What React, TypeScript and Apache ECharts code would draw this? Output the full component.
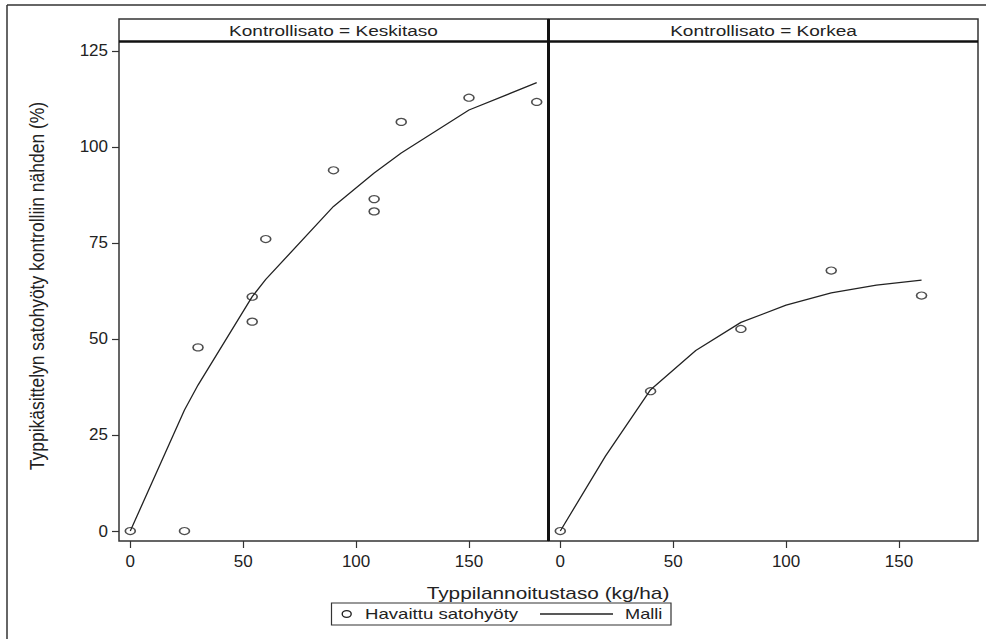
import React, { useEffect, useRef } from "react";
import * as echarts from "echarts";

const FONT = "'Liberation Sans', Arial, Helvetica, sans-serif";

// Panel titles
const panelTitles = ["Kontrollisato = Keskitaso", "Kontrollisato = Korkea"];

// Observed values (Keskitaso)
const kesX = [0, 24, 30, 54, 54, 60, 90, 108, 108, 120, 150, 180];
const kesY = [0, 0, 47.8, 61, 54.5, 76, 93.9, 86.4, 83.2, 106.5, 112.8, 111.7];
// Model (Keskitaso)
const kesModelX = [0, 24, 30, 54, 60, 90, 108, 120, 150, 180];
const kesModelY = [0, 31.5, 38, 61, 65.5, 84.5, 93.2, 98.4, 109.6, 116.7];

// Observed values (Korkea)
const korX = [0, 40, 80, 120, 160];
const korY = [0, 36.4, 52.6, 67.8, 61.3];
// Model (Korkea)
const korModelX = [0, 20, 40, 60, 80, 100, 120, 140, 160];
const korModelY = [0, 19.5, 36.8, 47, 54.3, 58.8, 62, 64, 65.3];

const xTicks = [0, 50, 100, 150];
const yTicks = [0, 25, 50, 75, 100, 125];

const xTitle = "Typpilannoitustaso (kg/ha)";
const yTitle = "Typpikäsittelyn satohyöty kontrolliin nähden (%)";
const legendNames = ["Havaittu satohyöty", "Malli"];

const pairs = (xs: number[], ys: number[]) => xs.map((x, i) => [x, ys[i]]);

export default function App() {
  const ref = useRef<HTMLDivElement>(null);
  useEffect(() => {
    if (!ref.current) return;
    const chart = echarts.init(ref.current, null, { renderer: "svg" });
    const ink = "#222";
    const frame = "#333";
    const xAxisBase = (gi: number) => ({
      type: "value",
      gridIndex: gi,
      min: -5,
      max: 185,
      axisLine: { show: false, onZero: false },
      axisTick: {
        show: true,
        inside: false,
        length: 7,
        customValues: xTicks,
        lineStyle: { color: frame, width: 1.2 },
      },
      axisLabel: {
        customValues: xTicks,
        margin: 12,
        fontSize: 17,
        color: ink,
        fontFamily: FONT,
      },
      splitLine: { show: false },
    });
    const scatterBase = {
      type: "scatter",
      symbol: "circle",
      symbolSize: [10, 7],
      itemStyle: { color: "rgba(0,0,0,0)", borderColor: ink, borderWidth: 1.4 },
      z: 3,
    };
    const lineBase = {
      type: "line",
      showSymbol: false,
      symbol: "none",
      lineStyle: { color: ink, width: 1.3 },
      z: 2,
    };
    const option: any = {
      animation: false,
      textStyle: { fontFamily: FONT },
      grid: [
        { left: 119, top: 42, width: 429, height: 499 },
        { left: 549, top: 42, width: 429, height: 499 },
      ],
      xAxis: [xAxisBase(0), xAxisBase(1)],
      yAxis: [
        {
          type: "value",
          gridIndex: 0,
          min: -2.6,
          max: 127.3,
          axisLine: { show: false, onZero: false },
          axisTick: {
            show: true,
            inside: false,
            length: 7,
            customValues: yTicks,
            lineStyle: { color: frame, width: 1.2 },
          },
          axisLabel: {
            customValues: yTicks,
            margin: 11,
            fontSize: 17,
            color: ink,
            fontFamily: FONT,
          },
          splitLine: { show: false },
        },
        {
          type: "value",
          gridIndex: 1,
          min: -2.6,
          max: 127.3,
          axisLine: { show: false, onZero: false },
          axisTick: { show: false },
          axisLabel: { show: false },
          splitLine: { show: false },
        },
      ],
      series: [
        { ...lineBase, name: legendNames[1], xAxisIndex: 0, yAxisIndex: 0, data: pairs(kesModelX, kesModelY) },
        { ...scatterBase, name: legendNames[0], xAxisIndex: 0, yAxisIndex: 0, data: pairs(kesX, kesY) },
        { ...lineBase, name: legendNames[1], xAxisIndex: 1, yAxisIndex: 1, data: pairs(korModelX, korModelY) },
        { ...scatterBase, name: legendNames[0], xAxisIndex: 1, yAxisIndex: 1, data: pairs(korX, korY) },
      ],
      graphic: [
        // outer figure border (top & left visible)
        { type: "line", shape: { x1: 7, y1: 5, x2: 986, y2: 5 }, style: { stroke: frame, lineWidth: 1.5 } },
        { type: "line", shape: { x1: 7, y1: 5, x2: 7, y2: 639 }, style: { stroke: frame, lineWidth: 1.5 } },
        // panel frames
        { type: "rect", shape: { x: 119, y: 19, width: 429, height: 522 }, style: { fill: "none", stroke: frame, lineWidth: 1.5 }, z: 10 },
        { type: "rect", shape: { x: 549, y: 19, width: 429, height: 522 }, style: { fill: "none", stroke: frame, lineWidth: 1.5 }, z: 10 },
        // strip separators
        { type: "line", shape: { x1: 119, y1: 41.5, x2: 978, y2: 41.5 }, style: { stroke: "#111", lineWidth: 2.5 }, z: 11 },
        { type: "line", shape: { x1: 548.5, y1: 19, x2: 548.5, y2: 541 }, style: { stroke: "#111", lineWidth: 3 }, z: 11 },
        // strip titles
        {
          type: "text", x: 333.5, y: 31, scaleX: 1.27, z: 12,
          style: { text: panelTitles[0], textAlign: "center", textVerticalAlign: "middle", fontSize: 15, fontFamily: FONT, fill: ink },
        },
        {
          type: "text", x: 763.5, y: 31, scaleX: 1.27, z: 12,
          style: { text: panelTitles[1], textAlign: "center", textVerticalAlign: "middle", fontSize: 15, fontFamily: FONT, fill: ink },
        },
        // axis titles
        {
          type: "text", x: 548, y: 593, scaleX: 1.3, z: 12,
          style: { text: xTitle, textAlign: "center", textVerticalAlign: "middle", fontSize: 16, fontFamily: FONT, fill: ink },
        },
        {
          type: "text", x: 37, y: 286, rotation: Math.PI / 2, scaleY: 1.15, z: 12,
          style: { text: yTitle, textAlign: "center", textVerticalAlign: "middle", fontSize: 17.5, fontFamily: FONT, fill: ink },
        },
        // legend
        { type: "rect", shape: { x: 331.5, y: 603, width: 339.5, height: 22 }, style: { fill: "none", stroke: frame, lineWidth: 1.2 }, z: 12 },
        { type: "ellipse", shape: { cx: 346.7, cy: 614, rx: 4.5, ry: 3.4 }, style: { fill: "none", stroke: ink, lineWidth: 1.4 }, z: 12 },
        {
          type: "text", x: 365, y: 614, scaleX: 1.33, z: 12,
          style: { text: legendNames[0], textAlign: "left", textVerticalAlign: "middle", fontSize: 14, fontFamily: FONT, fill: ink },
        },
        { type: "line", shape: { x1: 540, y1: 614, x2: 613, y2: 614 }, style: { stroke: ink, lineWidth: 1.3 }, z: 12 },
        {
          type: "text", x: 625, y: 614, scaleX: 1.3, z: 12,
          style: { text: legendNames[1], textAlign: "left", textVerticalAlign: "middle", fontSize: 14, fontFamily: FONT, fill: ink },
        },
      ],
    };
    chart.setOption(option);
    return () => chart.dispose();
  }, []);
  return (
    <div
      ref={ref}
      style={{ position: "absolute", left: 0, top: 0, width: 986, height: 639, background: "#fff" }}
    />
  );
}
